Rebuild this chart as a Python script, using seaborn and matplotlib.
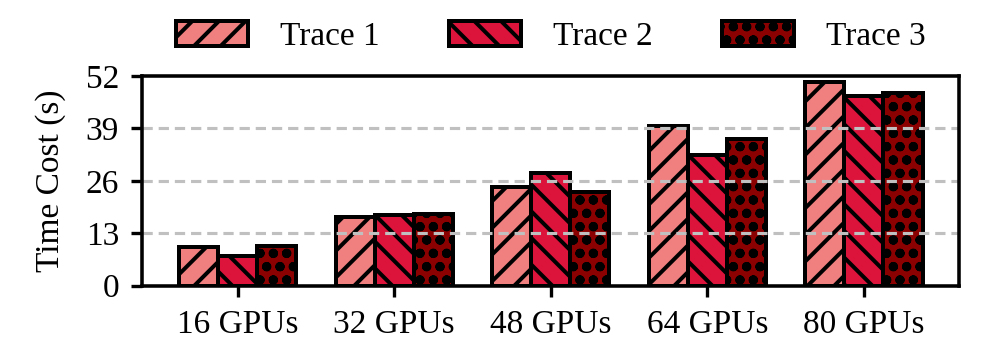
import matplotlib
matplotlib.use("Agg")
import matplotlib.pyplot as plt
import seaborn as sns
import pandas as pd

categories = ["16 GPUs", "32 GPUs", "48 GPUs", "64 GPUs", "80 GPUs"]
series_names = ["Trace 1", "Trace 2", "Trace 3"]
trace1 = [9.5, 17.0, 24.5, 39.6, 50.5]
trace2 = [7.4, 17.5, 28.0, 32.3, 47.1]
trace3 = [9.9, 17.9, 23.3, 36.3, 47.7]
yticks = [0, 13, 26, 39, 52]

colors = ["#F08080", "#DC143C", "#8B0000"]
hatches = ["//", "\\\\", "oo"]

rows = []
for name, vals in zip(series_names, [trace1, trace2, trace3]):
    for c, v in zip(categories, vals):
        rows.append({"GPUs": c, "Trace": name, "Time": v})
df = pd.DataFrame(rows)

sns.set_theme(style="white")
plt.rcParams["font.family"] = ["Liberation Serif", "DejaVu Serif"]
plt.rcParams["hatch.linewidth"] = 1.8
plt.rcParams["hatch.color"] = "black"
plt.rcParams["text.color"] = "black"
plt.rcParams["axes.labelcolor"] = "black"
plt.rcParams["xtick.color"] = "black"
plt.rcParams["ytick.color"] = "black"

FS = 15
LW = 1.8

fig = plt.figure(figsize=(997 / 160, 349 / 160), dpi=160)
ax = fig.add_axes([0.1427, 0.1814, 0.9622 - 0.1427, 0.782 - 0.1814])

sns.barplot(data=df, x="GPUs", y="Time", hue="Trace", order=categories,
            hue_order=series_names, palette=colors, width=0.75,
            edgecolor="black", linewidth=LW, legend=False, ax=ax,
            saturation=1, errorbar=None)

for cont, h in zip(ax.containers, hatches):
    for bar in cont:
        bar.set_hatch(h)
        bar.set_edgecolor("black")
        bar.set_linewidth(LW)
        bar.set_zorder(2)

ax.set_ylim(0, 52)
ax.set_yticks(yticks)
ax.set_xlim(-0.61, 4.61)
ax.set_xlabel("")
ax.set_ylabel("Time Cost (s)", fontsize=FS, labelpad=9, color="black")
ax.tick_params(axis="both", labelsize=FS, direction="out", length=5,
               width=1.5, colors="black", labelcolor="black",
               bottom=True, left=True)
ax.tick_params(axis="y", pad=5.5)
ax.tick_params(axis="x", pad=5.5)
for s in ax.spines.values():
    s.set_visible(True)
    s.set_color("black")
    s.set_linewidth(1.6)
    s.set_zorder(5)

ax.yaxis.grid(True, linestyle=(0, (3.3, 1.9)), color="#c0c0c0", linewidth=1.4)
ax.set_axisbelow(False)
for gl, t in zip(ax.get_ygridlines(), yticks):
    gl.set_zorder(3)
    if t in (yticks[0], yticks[-1]):
        gl.set_visible(False)

leg = ax.legend(handles=ax.containers, labels=series_names, loc="lower center",
                bbox_to_anchor=(0.5, 1.05), ncol=3, frameon=False, fontsize=FS,
                handlelength=2.15, handleheight=0.8, handletextpad=0.95,
                columnspacing=2.1, borderaxespad=0.0)
for t in leg.get_texts():
    t.set_color("black")

fig.savefig("out.png", dpi=160)
